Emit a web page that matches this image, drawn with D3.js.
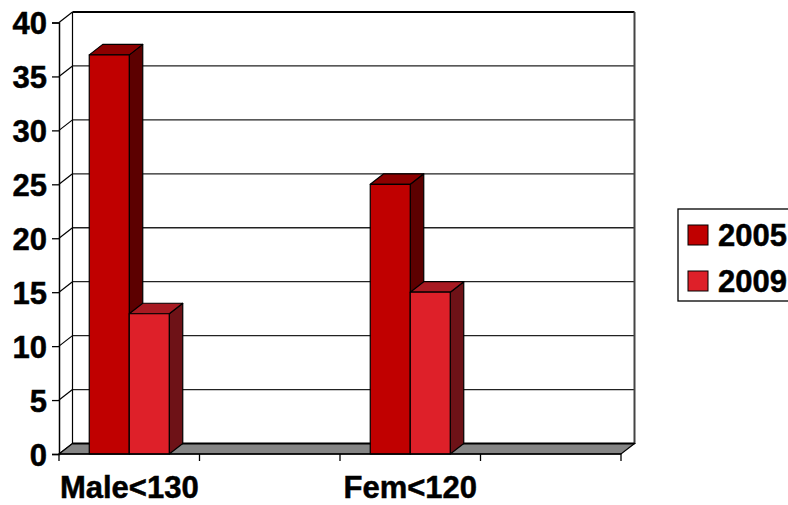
<!DOCTYPE html>
<html>
<head>
<meta charset="utf-8">
<script src="https://cdnjs.cloudflare.com/ajax/libs/d3/7.8.5/d3.min.js"></script>
<style>
html,body{margin:0;padding:0;background:#fff;overflow:hidden}
text{font-family:"Liberation Sans",Arial,sans-serif;font-weight:bold;fill:#000;stroke:#000;stroke-width:0.5px}
</style>
</head>
<body>
<svg id="chart" width="788" height="505"></svg>
<script>
var categories = ["Male<130", "a", "Fem<120", "b"];
var labels = ["Male<130", "", "Fem<120", ""];
var seriesNames = ["2005", "2009"];
var values2005 = [37, null, 25, null];
var values2009 = [13, null, 15, null];
var yTicks = [0, 5, 10, 15, 20, 25, 30, 35, 40];

var colors = {
  "2005": {front: "#c00000", top: "#8c0000", side: "#5c0000"},
  "2009": {front: "#de2029", top: "#a81a22", side: "#6e1217"}
};

var svg = d3.select("#chart");
var x0 = 59, x1 = 621, yBase = 454, yTop = 22.5;
var dx = 13.5, dy = -10.5;
var fontSize = "31px";

var x = d3.scaleBand().domain(categories).range([x0, x1]);
var y = d3.scaleLinear().domain([0, 40]).range([yBase, yTop]);
var barW = 40;
var inner = d3.scaleBand().domain(seriesNames)
  .range([x.bandwidth() / 2 - barW, x.bandwidth() / 2 + barW]);

// back wall lines
var grid = svg.append("g");
grid.selectAll(".grid").data(yTicks.slice(1)).enter().append("line")
  .attr("x1", x0 + dx).attr("x2", x1 + dx)
  .attr("y1", function(d){ return y(d) + dy; })
  .attr("y2", function(d){ return y(d) + dy; })
  .attr("stroke", function(d){ return d == 40 ? "#000" : "#222"; })
  .attr("stroke-width", function(d){ return d == 40 ? 2 : 1.3; });
grid.selectAll(".side").data(yTicks).enter().append("line")
  .attr("x1", x0).attr("x2", x0 + dx)
  .attr("y1", function(d){ return y(d); })
  .attr("y2", function(d){ return y(d) + dy; })
  .attr("stroke", "#000").attr("stroke-width", 1.2);
grid.append("line")
  .attr("x1", x0 + dx).attr("x2", x0 + dx)
  .attr("y1", y(40) + dy).attr("y2", y(0) + dy)
  .attr("stroke", "#000").attr("stroke-width", 1.2);
grid.append("line")
  .attr("x1", x1 + dx).attr("x2", x1 + dx)
  .attr("y1", y(40) + dy).attr("y2", y(0) + dy)
  .attr("stroke", "#444").attr("stroke-width", 2);

// floor
svg.append("polygon")
  .attr("points", [[x0, yBase], [x0 + dx, yBase + dy], [x1 + dx, yBase + dy], [x1, yBase]].join(" "))
  .attr("fill", "#858585").attr("stroke", "#000").attr("stroke-width", 1.2);
svg.append("line")
  .attr("x1", x0 + dx).attr("x2", x1 + dx)
  .attr("y1", yBase + dy).attr("y2", yBase + dy)
  .attr("stroke", "#000").attr("stroke-width", 2);

// bars
function drawBars(name, vals){
  var g = svg.append("g").selectAll("g")
    .data(categories.map(function(c, i){ return {cat: c, value: vals[i]}; }).filter(function(d){ return d.value != null; }))
    .enter().append("g")
    .attr("stroke", "#000").attr("stroke-width", 1.2).attr("stroke-linejoin", "round");
  function left(d){ return x(d.cat) + inner(name); }
  g.append("polygon").attr("fill", colors[name].side)
    .attr("points", function(d){
      var r = left(d) + barW;
      return [[r, y(d.value)], [r + dx, y(d.value) + dy], [r + dx, yBase + dy], [r, yBase]].join(" ");
    });
  g.append("polygon").attr("fill", colors[name].top)
    .attr("points", function(d){
      var l = left(d), t = y(d.value);
      return [[l, t], [l + dx, t + dy], [l + barW + dx, t + dy], [l + barW, t]].join(" ");
    });
  g.append("rect").attr("fill", colors[name].front)
    .attr("x", left).attr("width", barW)
    .attr("y", function(d){ return y(d.value); })
    .attr("height", function(d){ return yBase - y(d.value); });
}
drawBars("2005", values2005);
drawBars("2009", values2009);

// axes
var yAxis = d3.axisLeft(y).tickValues(yTicks).tickSize(7).tickPadding(5);
var yG = svg.append("g").attr("transform", "translate(" + x0 + ",0)").call(yAxis);
yG.select(".domain").attr("stroke", "#000").attr("stroke-width", 1.5);
yG.selectAll("line").attr("stroke", "#000").attr("stroke-width", 1.3);
yG.selectAll("text").style("font-size", fontSize).attr("font-family", null).attr("dy", "0.36em");

var xG = svg.append("g");
xG.append("line").attr("x1", x0).attr("x2", x1).attr("y1", yBase).attr("y2", yBase)
  .attr("stroke", "#000").attr("stroke-width", 1.5);
xG.selectAll(".xt").data(categories.map(function(c){ return x(c); }).concat([x1])).enter().append("line")
  .attr("x1", function(d){ return d; }).attr("x2", function(d){ return d; })
  .attr("y1", yBase).attr("y2", yBase + 7)
  .attr("stroke", "#000").attr("stroke-width", 1.3);
xG.selectAll(".xl").data(categories).enter().append("text")
  .attr("x", function(d){ return x(d) + x.bandwidth() / 2; })
  .attr("y", 498)
  .attr("text-anchor", "middle")
  .style("font-size", fontSize)
  .text(function(d, i){ return labels[i]; });

// legend
var legend = svg.append("g");
legend.append("rect").attr("x", 678).attr("y", 209).attr("width", 120).attr("height", 92)
  .attr("fill", "#fff").attr("stroke", "#000").attr("stroke-width", 1.3);
var items = legend.selectAll(".item").data(seriesNames).enter().append("g")
  .attr("transform", function(d, i){ return "translate(688," + (225 + i * 46) + ")"; });
items.append("rect").attr("width", 20).attr("height", 20)
  .attr("fill", function(d){ return colors[d].front; })
  .attr("stroke", "#000").attr("stroke-width", 1);
items.append("text").attr("x", 30).attr("y", 20.5)
  .style("font-size", fontSize)
  .text(function(d){ return d; });
</script>
</body>
</html>
